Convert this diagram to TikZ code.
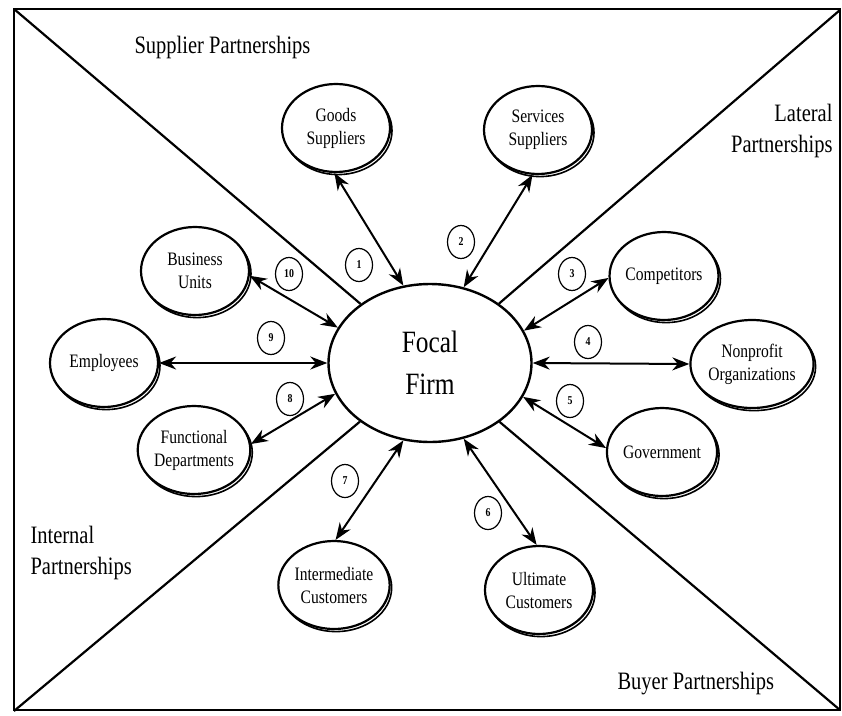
\documentclass[tikz,border=0pt]{standalone}
\usepackage{fontspec}
\setmainfont[FakeStretch=0.82]{Liberation Serif}
\usetikzlibrary{positioning,arrows.meta,shapes.geometric,shadows}

\begin{document}
\begin{tikzpicture}[
  x=1pt, y=-1pt,
  every node/.style={font=\fontsize{19}{23}\selectfont},
  party/.style={ellipse,draw,line width=2.2pt,fill=white,minimum width=108pt,minimum height=88pt,inner sep=0pt,align=center,
    copy shadow={shadow xshift=2pt,shadow yshift=-2.6pt,draw=black,fill=white,line width=1.6pt}},
  hub/.style={ellipse,draw,line width=2.4pt,fill=white,minimum width=203pt,minimum height=158pt,inner sep=0pt,align=center,font=\fontsize{31}{42}\selectfont},
  num/.style={ellipse,draw,line width=1.2pt,minimum width=27pt,minimum height=33pt,inner sep=0pt,font=\fontsize{12}{12}\selectfont\bfseries},
  zone/.style={font=\fontsize{25}{31}\selectfont},
  divider/.style={line width=2.2pt},
  arr/.style={{Stealth[length=17pt,width=13pt]}-{Stealth[length=17pt,width=13pt]}, line width=2pt}
]
\useasboundingbox (0,0) rectangle (842,715);

% frame and the four quadrants
\coordinate (tl) at (14,9);
\coordinate (tr) at (840,10);
\coordinate (bl) at (14,711);
\coordinate (br) at (840,710);
\draw[divider] (tl) rectangle (br);

\node[hub] (focal) at (430,363) {Focal\\Firm};

\draw[divider] (tl) -- (focal);
\draw[divider] (tr) -- (focal);
\draw[divider] (bl) -- (focal);
\draw[divider] (br) -- (focal);

% quadrant labels
\node[zone, anchor=west] (supplier) at (131,47) {Supplier Partnerships};
\node[zone, anchor=east, align=right] (lateral) at (836,131) {Lateral\\Partnerships};
\node[zone, anchor=west, align=left] (internal) at (27,553) {Internal\\Partnerships};
\node[zone, anchor=west] (buyer) at (614,684) {Buyer Partnerships};

% partners
\node[party] (goods) at (336,128) {Goods\\Suppliers};
\node[party] (services) at (538,130) {Services\\Suppliers};
\node[party] (competitors) at (664,276) {Competitors};
\node[party] (nonprofit) at (752,364) {Nonprofit\\Organizations};
\node[party] (government) at (662,452) {Government};
\node[party] (ultimate) at (539,590) {Ultimate\\Customers};
\node[party] (intermediate) at (334,585) {Intermediate\\Customers};
\node[party] (functional) at (194,450) {Functional\\Departments};
\node[party] (employees) at (104,363) {Employees};
\node[party] (business) at (195,271) {Business\\Units};

% relationships
\draw[arr] (goods.268) -- (focal.109);
\draw[arr] (services.263) -- (focal.66);
\draw[arr] (competitors.182) -- (focal.19);
\draw[arr] (nonprofit.west) -- (focal.east);
\draw[arr] (government.176) -- (focal.340);
\draw[arr] (ultimate.93) -- (focal.294);
\draw[arr] (intermediate.88) -- (focal.251);
\draw[arr] (functional.6) -- (focal.198);
\draw[arr] (employees.east) -- (focal.west);
\draw[arr] (business.355) -- (focal.159);

% numbers
\node[num] (n1) at (359,265) {1};
\node[num] (n2) at (461,242) {2};
\node[num] (n3) at (572,274) {3};
\node[num] (n4) at (588,342) {4};
\node[num] (n5) at (570,401) {5};
\node[num] (n6) at (488,513) {6};
\node[num] (n7) at (345,481) {7};
\node[num] (n8) at (290,399) {8};
\node[num] (n9) at (271,338) {9};
\node[num] (n10) at (289,274) {10};
\end{tikzpicture}
\end{document}
